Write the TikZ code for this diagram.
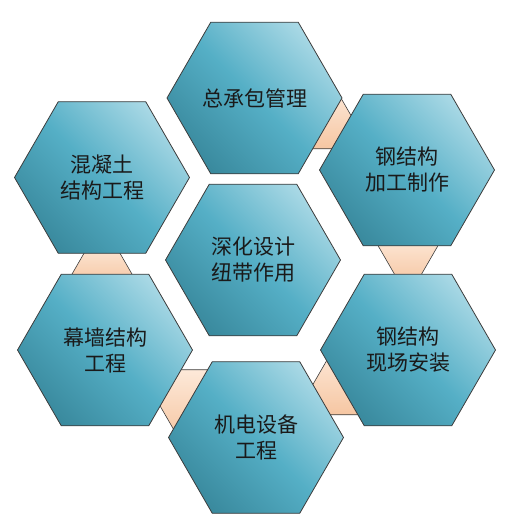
\documentclass[tikz,border=0pt]{standalone}
\usepackage{fontspec}
\newfontfamily\cjk{Noto Sans CJK SC}
\usetikzlibrary{shapes.geometric,calc,backgrounds}
\definecolor{hexdark}{HTML}{3A8A9E}
\definecolor{hexmid}{HTML}{55AFC6}
\definecolor{hexlight}{HTML}{A8D8E5}
\definecolor{edgegray}{HTML}{3C3C3C}
\definecolor{peachlight}{HTML}{FDE9D9}
\definecolor{peachdark}{HTML}{F6C6A2}
\definecolor{txt}{HTML}{1A1A1A}
\tikzset{
  hexa/.style={regular polygon, regular polygon sides=6, minimum size=175pt,
    inner sep=0pt, draw=edgegray, line width=0.8pt,
    left color=hexdark, right color=hexlight, middle color=hexmid, shading angle=135,
    text=txt, align=center, font=\cjk\fontsize{21}{26}\selectfont},
  linkshape/.style={draw=edgegray, line width=0.6pt, top color=peachlight, bottom color=peachdark}
}
% #1 narrow node, #2 direction toward wide node, #3 narrow width, #4 gap
\newcommand\trapLink[4]{%
  \pgfmathsetmacro\tA{65.8}%
  \pgfmathsetmacro\tB{75.8+#4+10}%
  \pgfmathsetmacro\hA{#3/2-10*0.57735}%
  \pgfmathsetmacro\hB{#3/2+(#4+10)*0.57735}%
  \draw[linkshape] ($(#1)+({#2}:{\tA})+({#2+90}:{\hA})$) -- ($(#1)+({#2}:{\tB})+({#2+90}:{\hB})$)
    -- ($(#1)+({#2}:{\tB})+({#2-90}:{\hB})$) -- ($(#1)+({#2}:{\tA})+({#2-90}:{\hA})$) -- cycle;%
}
\begin{document}
\begin{tikzpicture}[x=1pt,y=1pt]
\useasboundingbox (0,0) rectangle (504,516);
\node[hexa] (top) at (254.5,418) {总承包管理};
\node[hexa] (tr) at (407,346) {钢结构\\加工制作};
\node[hexa] (br) at (408,166) {钢结构\\现场安装};
\node[hexa] (bot) at (256,78.5) {机电设备\\工程};
\node[hexa] (bl) at (105,166) {幕墙结构\\工程};
\node[hexa] (tl) at (102,338.5) {混凝土\\结构工程};
\node[hexa] (mid) at (253,256) {深化设计\\纽带作用};
\begin{pgfonlayer}{background}
\trapLink{tr}{150}{38.5}{16.5}
\trapLink{br}{90}{27}{28.4}
\trapLink{bot}{30}{35}{23.8}
\trapLink{bl}{-30}{42}{23}
\trapLink{tl}{270}{36}{21}
\end{pgfonlayer}
\end{tikzpicture}
\end{document}
